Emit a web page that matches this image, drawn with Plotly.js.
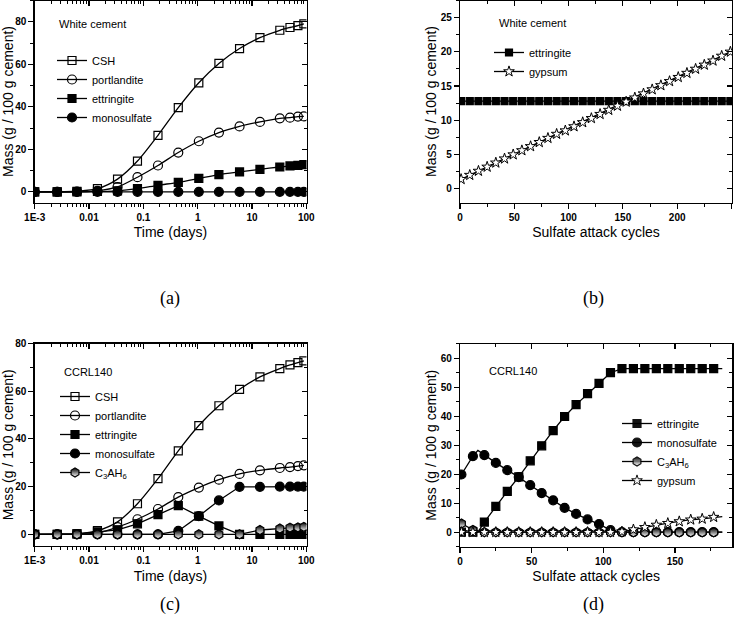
<!DOCTYPE html>
<html><head><meta charset="utf-8">
<script src="https://cdn.plot.ly/plotly-3.0.1.min.js"></script>
<style>html,body{margin:0;padding:0;background:#fff}#chart{width:739px;height:627px}</style>
</head><body><div id="chart"></div>
<script>
// ---------- Panel (a): hydration, White cement ----------
const timeA = [0.001, 0.0026, 0.006, 0.0143, 0.0335, 0.078, 0.186, 0.44, 1.05, 2.46, 5.9, 14, 32.5, 50, 70, 90];
const cshA = [0, 0, 0.3, 1.5, 6, 14.5, 26.6, 39.6, 51.3, 60.4, 67.4, 72.5, 76, 77.3, 78.2, 79];
const portlanditeA = [0, 0, 0.1, 0.5, 2.3, 6.9, 12.4, 18.5, 23.8, 27.9, 30.8, 32.9, 34.6, 34.9, 35.4, 35.5];
const ettringiteA = [0, 0, 0, 0.2, 0.5, 1.5, 3.1, 4.5, 6.3, 8.1, 9.4, 10.6, 11.7, 12.2, 12.5, 12.8];
const monosulfateA = [0, 0, 0, 0, 0, 0, 0, 0, 0, 0, 0, 0, 0, 0, 0, 0];

// ---------- Panel (b): sulfate attack, White cement ----------
const cyclesB = [1, 9, 17, 25, 33, 41, 49, 57, 65, 73, 81, 89, 97, 105, 113, 121, 129, 137, 145, 153, 161, 169, 177, 185, 193, 201, 209, 217, 225, 233, 241, 249];
const ettringiteB = [12.8, 12.8, 12.8, 12.8, 12.8, 12.8, 12.8, 12.8, 12.8, 12.8, 12.8, 12.8, 12.8, 12.8, 12.8, 12.8, 12.8, 12.8, 12.8, 12.8, 12.8, 12.8, 12.8, 12.8, 12.8, 12.8, 12.8, 12.8, 12.8, 12.8, 12.8, 12.8];
const gypsumB = [1.4, 2.0, 2.6, 3.2, 3.8, 4.4, 5.0, 5.6, 6.2, 6.8, 7.4, 8.0, 8.5, 9.1, 9.7, 10.3, 10.9, 11.5, 12.1, 12.7, 13.3, 13.9, 14.5, 15.1, 15.7, 16.3, 16.9, 17.5, 18.1, 18.7, 19.4, 20.0];

// ---------- Panel (c): hydration, CCRL140 ----------
const timeC = [0.001, 0.0026, 0.006, 0.0143, 0.0335, 0.078, 0.186, 0.44, 1.05, 2.46, 5.9, 14, 32.5, 50, 70, 90];
const cshC = [0, 0, 0.2, 1.5, 5.2, 12.8, 23.3, 35, 45.6, 53.9, 60.8, 66, 69.5, 71, 72, 72.7];
const portlanditeC = [0, 0, 0.1, 0.5, 3, 6.3, 10.6, 15.6, 19.6, 22.9, 25.3, 26.8, 27.8, 28.2, 28.6, 28.9];
const ettringiteC = [0, 0, 0.2, 1, 1.8, 4.4, 8.2, 12, 7.6, 3.5, 0, 0, 0, 0, 0, 0];
const monosulfateC = [0, 0, 0, 0, 0, 0, 0, 1.4, 7.6, 14.2, 19.9, 19.9, 20, 20, 20, 20];
const c3ah6C = [0, 0, 0, 0, 0, 0, 0, 0, 0, 0, 0, 1.8, 2.4, 2.8, 2.9, 3.1];

// ---------- Panel (d): sulfate attack, CCRL140 ----------
const cyclesD = [1, 9, 12.5, 17, 25, 33, 41, 49, 57, 65, 73, 81, 89, 97, 105, 113, 121, 129, 137, 145, 153, 161, 169, 177, 183];
const markedD = [1, 1, 0, 1, 1, 1, 1, 1, 1, 1, 1, 1, 1, 1, 1, 1, 1, 1, 1, 1, 1, 1, 1, 1, 0];
const ettringiteD = [0, 0, 0, 3.5, 8.9, 14.1, 19.1, 24.6, 29.8, 35.0, 39.9, 44.0, 47.8, 51.3, 55.0, 56.4, 56.4, 56.4, 56.4, 56.4, 56.4, 56.4, 56.4, 56.4, 56.4];
const monosulfateD = [19.9, 26.2, 28.2, 26.6, 23.9, 21.4, 19.0, 16.2, 13.5, 11.0, 8.4, 6.3, 4.4, 2.8, 0.7, 0, 0, 0, 0, 0, 0, 0, 0, 0, 0];
const c3ah6D = [3.0, 0.8, 0.3, 0, 0, 0, 0, 0, 0, 0, 0, 0, 0, 0, 0, 0, 0, 0, 0, 0, 0, 0, 0, 0, 0];
const gypsumD = [0, 0, 0, 0, 0, 0, 0, 0, 0, 0, 0, 0, 0, 0, 0, 0.2, 0.9, 1.7, 2.5, 3.1, 3.7, 4.3, 4.6, 5.2, 5.4];

// tick labels
const logTickVals = [0.001, 0.01, 0.1, 1, 10, 100];
const logTickText = ['1E-3', '0.01', '0.1', '1', '10', '100'];

// ---------- layout helpers ----------
const W = 739, H = 627;
const FONT = 'Liberation Sans, Arial, sans-serif';
const px = (a, b) => [a / W, b / W];
const py = (top, bottom) => [1 - bottom / H, 1 - top / H];

const logMinor = [];
for (let e = -3; e < 2; e++) for (let m = 2; m <= 9; m++) logMinor.push(m * Math.pow(10, e));

function baseAxis(o) {
  const ax = {
    showline: true, linecolor: '#000', linewidth: 1.2, mirror: true,
    ticks: 'outside', ticklen: 5, tickwidth: 1.2, tickcolor: '#000',
    showgrid: false, zeroline: false, automargin: false,
    tickfont: {family: FONT, size: 10, weight: 'bold', color: '#000'},
    minor: Object.assign({ticks: 'outside', ticklen: 3, tickwidth: 1, tickcolor: '#000', showgrid: false}, o.minor || {})
  };
  const copy = Object.assign({}, o); delete copy.minor;
  return Object.assign(ax, copy);
}
function mirrorAxis(base, overlay, anchor, side) {
  const ax = {
    overlaying: overlay, anchor: anchor, side: side, type: base.type || 'linear',
    range: base.range, showline: false, showgrid: false, zeroline: false, automargin: false,
    ticks: 'inside', ticklen: 5, tickwidth: 1.2, tickcolor: '#000', showticklabels: false,
    minor: Object.assign({}, base.minor, {ticks: 'inside'})
  };
  ['tickmode', 'tickvals', 'dtick', 'tick0'].forEach(k => { if (base[k] !== undefined) ax[k] = base[k]; });
  return ax;
}

const titleFont = {family: FONT, size: 14, color: '#000'};
const xTitle = t => ({text: t, font: titleFont, standoff: 5});
const yTitle = t => ({text: t, font: titleFont, standoff: 0});

const xaxis = baseAxis({domain: px(34.5, 306.5), anchor: 'y', type: 'log', range: [-3.003, 2.003],
  tickmode: 'array', tickvals: logTickVals, ticktext: logTickText, minor: {tickmode: 'array', tickvals: logMinor},
  title: xTitle('Time (days)')});
const yaxis = baseAxis({domain: py(0.5, 202.5), anchor: 'x', range: [-5, 90], dtick: 20, tick0: 0, minor: {dtick: 10, tick0: 0},
  title: yTitle('Mass (g / 100 g cement)')});
const xaxis2 = baseAxis({domain: px(460, 732), anchor: 'y2', range: [0, 250.5], dtick: 50, tick0: 0, minor: {dtick: 25, tick0: 0},
  title: xTitle('Sulfate attack cycles')});
const yaxis2 = baseAxis({domain: py(0.5, 202.5), anchor: 'x2', range: [-2, 27.5], dtick: 5, tick0: 0, minor: {dtick: 2.5, tick0: 0},
  title: yTitle('Mass (g / 100 g cement)')});
const xaxis3 = baseAxis({domain: px(34.5, 306.5), anchor: 'y3', type: 'log', range: [-3.003, 2.003],
  tickmode: 'array', tickvals: logTickVals, ticktext: logTickText, minor: {tickmode: 'array', tickvals: logMinor},
  title: xTitle('Time (days)')});
const yaxis3 = baseAxis({domain: py(343.5, 546.2), anchor: 'x3', range: [-5, 80], dtick: 20, tick0: 0, minor: {dtick: 10, tick0: 0},
  title: yTitle('Mass (g / 100 g cement)')});
const xaxis4 = baseAxis({domain: px(460, 732.3), anchor: 'y4', range: [0, 190], dtick: 50, tick0: 0, minor: {dtick: 25, tick0: 0},
  title: xTitle('Sulfate attack cycles')});
const yaxis4 = baseAxis({domain: py(343.7, 546.7), anchor: 'x4', range: [-5, 65], dtick: 10, tick0: 0, minor: {dtick: 5, tick0: 0},
  title: yTitle('Mass (g / 100 g cement)')});

// ---------- traces ----------
const LINE = {color: '#000', width: 1.3};
function series(x, y, name, sym, xa, ya, leg, opts) {
  opts = opts || {};
  const mk = {symbol: sym, size: opts.size || 8, color: opts.fill || '#000', line: {color: '#000', width: opts.lw || 1.2}};
  if (opts.gradient) mk.gradient = {type: 'vertical', color: '#fff'};
  if (opts.opacity) mk.opacity = opts.opacity;
  return {
    type: 'scatter', mode: 'lines+markers', x: x, y: y, name: name,
    xaxis: xa, yaxis: ya, legend: leg, cliponaxis: true,
    line: Object.assign({}, LINE, opts.shape ? {shape: opts.shape, smoothing: 0.8} : {}),
    marker: mk
  };
}
const S = 'spline';
const traces = [
  series(timeA, cshA, 'CSH', 'square-open', 'x', 'y', 'legend', {shape: S, size: 8}),
  series(timeA, portlanditeA, 'portlandite', 'circle-open', 'x', 'y', 'legend', {shape: S, size: 9}),
  series(timeA, ettringiteA, 'ettringite', 'square', 'x', 'y', 'legend', {shape: S, size: 8}),
  series(timeA, monosulfateA, 'monosulfate', 'circle', 'x', 'y', 'legend', {shape: S, size: 9}),

  series(cyclesB, ettringiteB, 'ettringite', 'square', 'x2', 'y2', 'legend2', {size: 7}),
  series(cyclesB, gypsumB, 'gypsum', 'star', 'x2', 'y2', 'legend2', {size: 8, fill: '#fff', lw: 1}),

  series(timeC, cshC, 'CSH', 'square-open', 'x3', 'y3', 'legend3', {shape: S, size: 8}),
  series(timeC, portlanditeC, 'portlandite', 'circle-open', 'x3', 'y3', 'legend3', {shape: S, size: 9}),
  series(timeC, ettringiteC, 'ettringite', 'square', 'x3', 'y3', 'legend3', {size: 8}),
  series(timeC, monosulfateC, 'monosulfate', 'circle', 'x3', 'y3', 'legend3', {size: 9}),
  series(timeC, c3ah6C, 'C<sub>3</sub>AH<sub>6</sub>', 'hexagon', 'x3', 'y3', 'legend3', {size: 9, gradient: true}),

  series(cyclesD, ettringiteD, 'ettringite', 'square', 'x4', 'y4', 'legend4', {size: 8, opacity: markedD}),
  series(cyclesD, monosulfateD, 'monosulfate', 'circle', 'x4', 'y4', 'legend4', {size: 9, opacity: markedD}),
  series(cyclesD, c3ah6D, 'C<sub>3</sub>AH<sub>6</sub>', 'hexagon', 'x4', 'y4', 'legend4', {size: 9, gradient: true, opacity: markedD}),
  series(cyclesD, gypsumD, 'gypsum', 'star', 'x4', 'y4', 'legend4', {size: 8, fill: '#fff', lw: 1, opacity: markedD})
];
// empty traces to bind the mirrored (top/right) tick axes
for (let i = 1; i <= 4; i++) {
  traces.push({type: 'scatter', x: [], y: [], xaxis: 'x' + (i + 4), yaxis: 'y' + (i + 4), showlegend: false, hoverinfo: 'skip'});
}

const legendBase = {xanchor: 'left', yanchor: 'top', bgcolor: 'rgba(0,0,0,0)', borderwidth: 0,
  font: {family: FONT, size: 11, color: '#000'}, itemwidth: 30, tracegroupgap: 0, traceorder: 'normal'};
const leg = (l, t) => Object.assign({}, legendBase, {x: l / W, y: 1 - t / H});

const ann = (text, x, y, size, family, anchor) => ({text: text, x: x / W, y: 1 - y / H, xref: 'paper', yref: 'paper',
  xanchor: anchor || 'left', yanchor: 'middle', showarrow: false, font: {family: family || FONT, size: size || 11, color: '#000'}});
const SERIF = 'Liberation Serif, DejaVu Serif, serif';

const layout = {
  width: W, height: H, margin: {l: 0, r: 0, t: 0, b: 0},
  paper_bgcolor: '#fff', plot_bgcolor: '#fff', showlegend: true,
  font: {family: FONT, color: '#000'},
  xaxis, yaxis, xaxis2, yaxis2, xaxis3, yaxis3, xaxis4, yaxis4,
  xaxis5: mirrorAxis(xaxis, 'x', 'y', 'top'), yaxis5: mirrorAxis(yaxis, 'y', 'x', 'right'),
  xaxis6: mirrorAxis(xaxis2, 'x2', 'y2', 'top'), yaxis6: mirrorAxis(yaxis2, 'y2', 'x2', 'right'),
  xaxis7: mirrorAxis(xaxis3, 'x3', 'y3', 'top'), yaxis7: mirrorAxis(yaxis3, 'y3', 'x3', 'right'),
  xaxis8: mirrorAxis(xaxis4, 'x4', 'y4', 'top'), yaxis8: mirrorAxis(yaxis4, 'y4', 'x4', 'right'),
  legend: leg(52, 46),
  legend2: leg(489, 38),
  legend3: leg(55, 382),
  legend4: leg(617, 409),
  annotations: [
    ann('White cement', 57, 24),
    ann('White cement', 497, 23),
    ann('CCRL140', 61.5, 372),
    ann('CCRL140', 487, 371),
    ann('(a)', 170, 298, 18, SERIF, 'center'),
    ann('(b)', 593, 298, 18, SERIF, 'center'),
    ann('(c)', 170, 604, 18, SERIF, 'center'),
    ann('(d)', 593, 604, 18, SERIF, 'center')
  ]
};

Plotly.newPlot('chart', traces, layout, {staticPlot: true, displayModeBar: false});
</script>
</body></html>
